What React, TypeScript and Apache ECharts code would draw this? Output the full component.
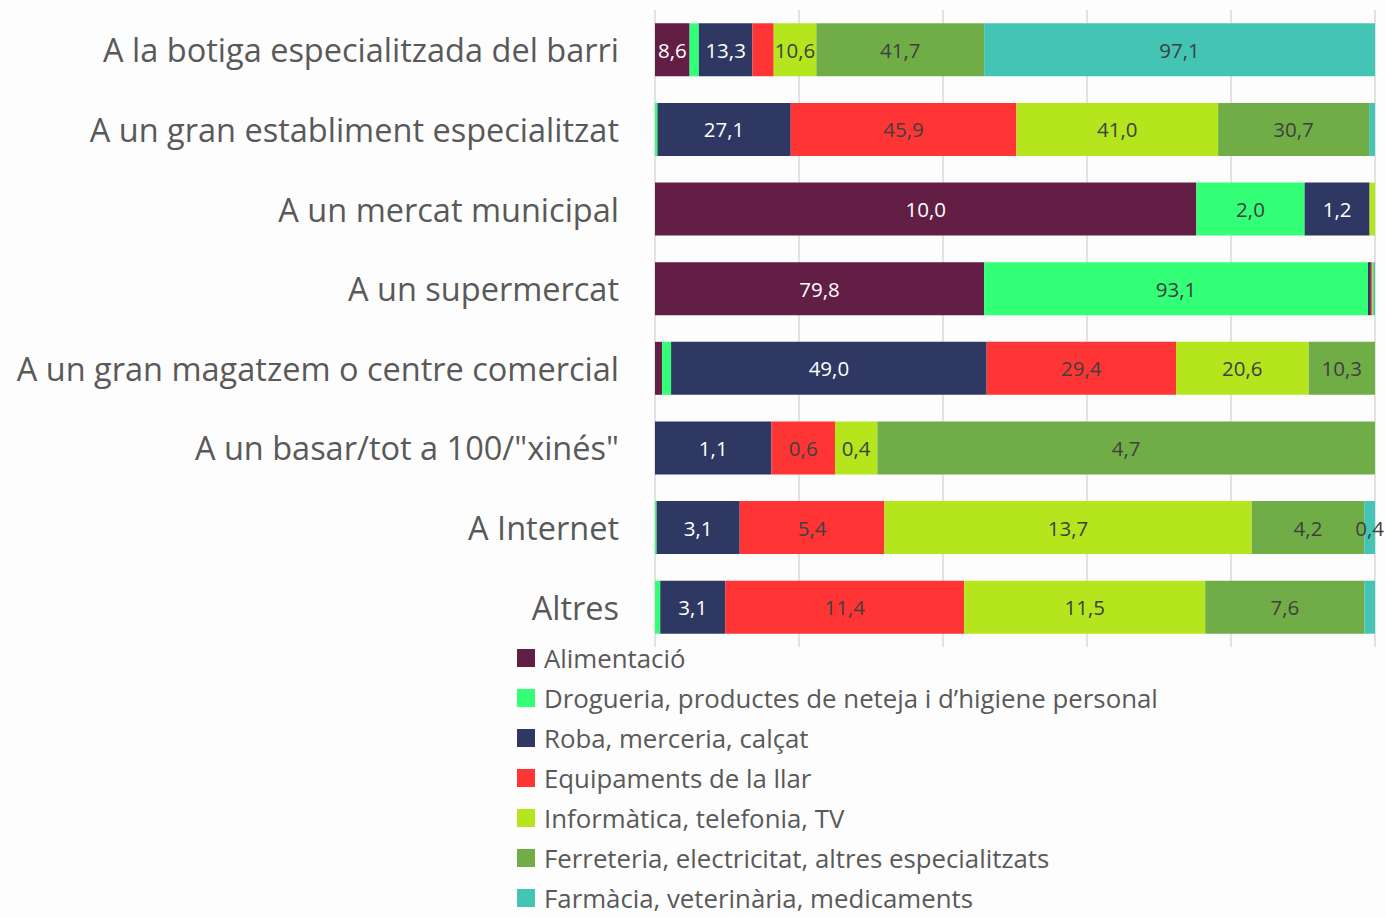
import React, { useEffect, useRef } from "react";
import * as echarts from "echarts";

const places = [
  "A la botiga especialitzada del barri",
  "A un gran establiment especialitzat",
  "A un mercat municipal",
  "A un supermercat",
  "A un gran magatzem o centre comercial",
  'A un basar/tot a 100/"xinés"',
  "A Internet",
  "Altres",
];

const seriesNames = [
  "Alimentació",
  "Drogueria, productes de neteja i d’higiene personal",
  "Roba, merceria, calçat",
  "Equipaments de la llar",
  "Informàtica, telefonia, TV",
  "Ferreteria, electricitat, altres especialitzats",
  "Farmàcia, veterinària, medicaments",
];

const colors = ["#621E45", "#33FF77", "#2E3862", "#FF3535", "#B5E61D", "#70AD47", "#44C4B4"];
const labelColors = ["#FFFFFF", "#404040", "#FFFFFF", "#404040", "#404040", "#404040", "#404040"];

// values per series, one per place (row)
const alimentacio = [8.6, 0, 10.0, 79.8, 1.1, 0, 0, 0];
const drogueria = [2.3, 0.5, 2.0, 93.1, 1.4, 0, 0.06, 0.25];
const roba = [13.3, 27.1, 1.2, 0.7, 49.0, 1.1, 3.1, 3.1];
const equipaments = [5.3, 45.9, 0, 0.25, 29.4, 0.6, 5.4, 11.4];
const informatica = [10.6, 41.0, 0.1, 0.25, 20.6, 0.4, 13.7, 11.5];
const ferreteria = [41.7, 30.7, 0, 0.1, 10.3, 4.7, 4.2, 7.6];
const farmacia = [97.1, 1.2, 0, 0.4, 0, 0, 0.4, 0.5];

// which segments carry a data label
const alimentacioLabel = [true, false, true, true, false, false, false, false];
const drogueriaLabel = [false, false, true, true, false, false, false, false];
const robaLabel = [true, true, true, false, true, true, true, true];
const equipamentsLabel = [false, true, false, false, true, true, true, true];
const informaticaLabel = [true, true, false, false, true, true, true, true];
const ferreteriaLabel = [true, true, false, false, true, true, true, true];
const farmaciaLabel = [true, false, false, false, false, false, true, false];

const allValues = [alimentacio, drogueria, roba, equipaments, informatica, ferreteria, farmacia];
const allLabels = [
  alimentacioLabel,
  drogueriaLabel,
  robaLabel,
  equipamentsLabel,
  informaticaLabel,
  ferreteriaLabel,
  farmaciaLabel,
];

export default function App() {
  const ref = useRef<HTMLDivElement>(null);

  useEffect(() => {
    if (!ref.current) return;
    const chart = echarts.init(ref.current, undefined, { renderer: "svg" });

    const totals = places.map((_, i) => allValues.reduce((s, arr) => s + arr[i], 0));
    const font = "'Open Sans', 'Noto Sans', sans-serif";

    const series = seriesNames.map((name, si) => ({
      name,
      type: "bar",
      stack: "total",
      barWidth: 53,
      itemStyle: { color: colors[si] },
      label: {
        show: true,
        position: "inside",
        color: labelColors[si],
        fontSize: 20.5,
        fontFamily: font,
        formatter: (p: any) => p.data.raw.toFixed(1).replace(".", ","),
      },
      emphasis: { disabled: true },
      data: allValues[si].map((v, i) => ({
        value: (v / totals[i]) * 100,
        raw: v,
        label: { show: allLabels[si][i] },
      })),
    }));

    chart.setOption({
      animation: false,
      backgroundColor: "#FDFDFD",
      grid: { left: 655, right: 11, top: 10, bottom: 270, containLabel: false },
      xAxis: {
        type: "value",
        min: 0,
        max: 100,
        interval: 20,
        axisLabel: { show: false },
        axisLine: { show: false },
        axisTick: { show: false },
        splitLine: { show: true, lineStyle: { color: "#D9D9D9", width: 1.5 } },
      },
      yAxis: {
        type: "category",
        inverse: true,
        data: places,
        axisLine: { show: false },
        axisTick: { show: false },
        axisLabel: {
          margin: 36,
          fontSize: 32.5,
          color: "#595959",
          fontFamily: font,
        },
      },
      legend: {
        orient: "vertical",
        left: 512,
        top: 639,
        height: 400,
        itemWidth: 18,
        itemHeight: 18,
        itemGap: 12,
        icon: "rect",
        textStyle: { fontSize: 25.8, lineHeight: 28, color: "#595959", fontFamily: font, padding: [0, 0, 0, 4] },
        data: seriesNames,
      },
      series,
    });

    return () => chart.dispose();
  }, []);

  return (
    <div
      ref={ref}
      style={{ position: "fixed", left: 0, top: 0, width: 1386, height: 917 }}
    />
  );
}
